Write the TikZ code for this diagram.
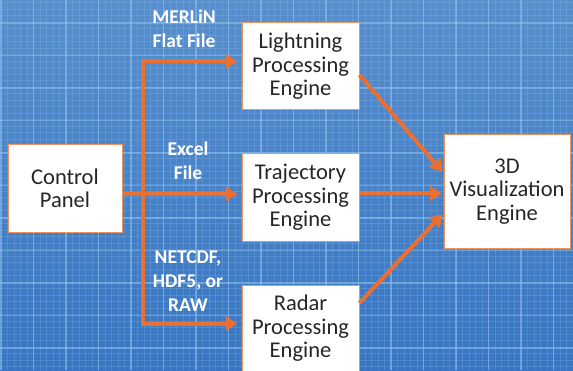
\documentclass[tikz,border=0pt]{standalone}
\usepackage{fontspec}
\setmainfont{Carlito}
\usetikzlibrary{arrows.meta}
\definecolor{bgtop}{RGB}{88,142,204}
\definecolor{bgbot}{RGB}{56,118,194}
\definecolor{gridline}{RGB}{150,196,238}
\definecolor{flowor}{RGB}{234,112,50}
\definecolor{boxedge}{RGB}{236,150,100}
\definecolor{boxtext}{RGB}{38,38,38}
\begin{document}
\begin{tikzpicture}[
  x=1pt, y=1pt,
  block/.style={rectangle, draw=boxedge, fill=white, line width=1pt, minimum width=117pt, minimum height=87pt, inner sep=0pt, text=boxtext, font=\fontsize{22.5}{23.5}\selectfont, align=center},
  tag/.style={text=white, font=\fontsize{19.5}{24}\selectfont\bfseries, align=center},
  flow/.style={draw=flowor, line width=4pt, -{Triangle[length=12pt,width=14pt]}},
  minorgrid/.style={draw=gridline, opacity=0.22, line width=0.8pt},
  majorgrid/.style={draw=gridline, opacity=0.5, line width=1.4pt},
  node distance=131pt
]
\useasboundingbox (0,0) rectangle (573,370);
\shade[top color=bgtop, bottom color=bgbot] (0,0) rectangle (573,370);
\foreach \gx in {1,7.5,...,573} \draw[minorgrid] (\gx,0) -- (\gx,370);
\foreach \gy in {3.5,10,...,370} \draw[minorgrid] (0,\gy) -- (573,\gy);
\foreach \gx in {1,33.5,...,573} \draw[majorgrid] (\gx,0) -- (\gx,370);
\foreach \gy in {22,54.5,...,370} \draw[majorgrid] (0,\gy) -- (573,\gy);

\node[block, minimum width=114pt] (ctrl) at (65,181.5) {Control\\Panel};
\node[block] (tpe) at (300.5,172.5) {Trajectory\\Processing\\Engine};
\node[block, above of=tpe] (lpe) {Lightning\\Processing\\Engine};
\node[block, below of=tpe] (rpe) {Radar\\Processing\\Engine};
\node[block, minimum width=126pt, minimum height=113pt] (viz) at (507,178.5) {3D\\Visualization\\Engine};

\node[tag] (merlin) at (184,341) {MERLiN\\Flat File};
\node[tag] (excel) at (188,209) {Excel\\File};
\node[tag] (netcdf) at (188,89) {NETCDF,\\HDF5, or\\RAW};

\coordinate (split) at (143,176);

\draw[flow, shorten >=4pt] (ctrl.east |- split) -- (tpe.west |- split);
\draw[flow, shorten >=4pt] (split) |- ([yshift=5pt]lpe.west);
\draw[flow, shorten >=4pt] (split) |- ([yshift=5pt]rpe.west);
\draw[flow, shorten >=1.5pt] ([yshift=-8.5pt]lpe.east) -- ([yshift=18.5pt]viz.west);
\draw[flow, shorten >=1.5pt] ([yshift=4pt]tpe.east) -- ([yshift=-2pt]viz.west);
\draw[flow, shorten >=1.5pt] ([yshift=25.5pt]rpe.east) -- ([yshift=-21.5pt]viz.west);
\end{tikzpicture}
\end{document}
